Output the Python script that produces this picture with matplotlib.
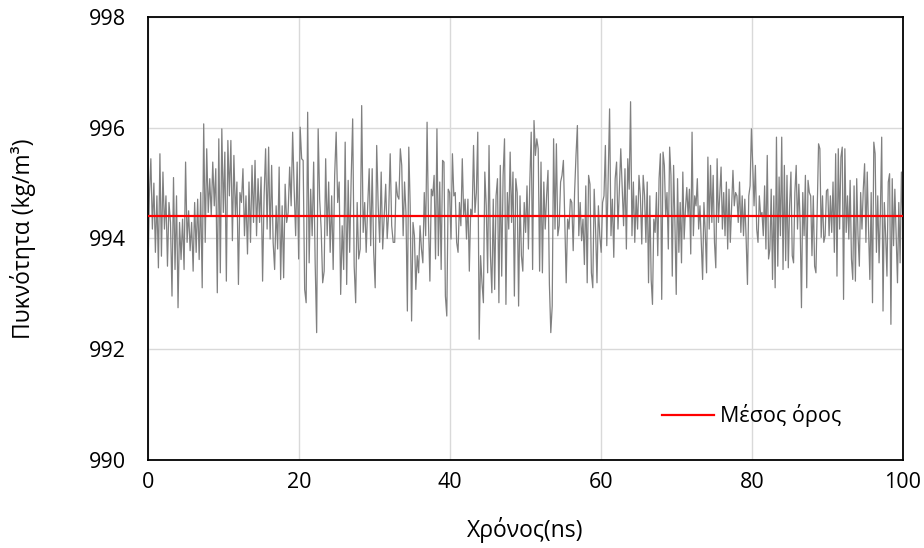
import numpy as np
import matplotlib
matplotlib.use("Agg")
import matplotlib.pyplot as plt

plt.rcParams['font.family'] = ['Open Sans', 'DejaVu Sans']

# Density samples (kg/m^3), one list per time window
density_a = [993.2, 994.77, 995.44, 994.17, 995.0, 993.75, 994.77, 993.47, 995.53, 993.68,
             995.2, 994.17, 994.77, 993.5, 994.65, 994.29, 992.96, 995.1, 993.44, 994.77,
             992.75, 994.29, 993.62, 994.35, 993.44, 995.38, 993.93, 994.5, 993.78, 994.29,
             993.41, 994.65, 993.75, 994.71, 993.62, 994.83, 993.11, 996.07, 993.93, 995.62,
             994.47, 995.08, 994.41, 995.38, 994.59, 995.26, 993.02, 995.8, 993.38, 995.98,
             994.47, 995.56, 993.23, 995.77, 994.77, 995.77, 993.96, 995.5, 994.41, 995.02,
             993.17, 994.83, 994.65, 995.26, 994.05, 994.77, 993.72, 995.02, 993.93, 995.32,
             994.29, 995.41, 994.05, 995.08, 994.29, 995.11, 993.23, 994.77, 995.62, 994.17,
             995.65]
density_b = [993.99, 995.32, 993.93, 993.44, 994.59, 993.81, 995.29, 993.26, 994.59, 993.29,
             994.98, 994.29, 994.47, 995.29, 994.59, 995.92, 994.89, 994.05, 995.38, 993.63,
             996.01, 995.44, 995.41, 993.08, 992.84, 996.28, 993.56, 994.89, 994.05, 995.38,
             993.56, 992.3, 995.98, 994.71, 994.17, 993.2, 993.41, 995.44, 994.05, 995.02,
             993.75, 994.77, 993.44, 995.14, 995.92, 994.65, 995.02, 992.99, 994.23, 993.44,
             995.74, 993.17, 995.05, 993.75, 995.08, 996.16, 993.5, 992.84, 994.65, 993.63,
             993.81, 996.4, 994.11, 994.65, 993.75, 994.59, 995.26, 993.87, 995.26, 993.75,
             993.11, 995.68, 994.59, 993.93, 995.2, 993.81, 994.41, 994.98, 994.0, 994.47,
             995.53, 994.23, 993.93]
density_c = [993.93, 995.02, 994.77, 994.71, 995.62, 995.32, 994.05, 995.02, 994.47, 992.69,
             995.65, 994.59, 992.51, 994.29, 994.05, 993.08, 993.69, 993.38, 994.23, 993.81,
             993.56, 994.83, 994.05, 996.1, 994.29, 993.23, 994.89, 994.77, 995.14, 993.63,
             995.98, 993.69, 995.02, 993.44, 995.41, 995.38, 992.96, 992.6, 994.89, 994.83,
             993.99, 995.53, 994.77, 994.83, 993.93, 993.75, 994.65, 994.23, 995.44, 994.41,
             994.71, 993.99, 994.71, 993.41, 994.53, 994.41, 995.68, 994.47, 994.83, 995.92,
             992.18, 993.69, 993.2, 992.84, 995.2, 994.59, 993.38, 995.68, 993.69, 993.02,
             994.71, 993.08, 994.77, 995.08, 992.84, 995.32, 993.32, 995.14, 995.8, 992.81,
             994.83, 994.17, 995.56, 994.29, 995.2, 992.96, 995.08, 994.83, 992.78]
density_d = [994.77, 993.69, 993.41, 994.65, 994.11, 994.95, 993.81, 995.02, 995.92, 993.44,
             996.13, 995.5, 995.8, 995.62, 993.41, 995.38, 993.38, 995.02, 994.17, 994.77,
             995.23, 993.17, 992.3, 992.78, 995.8, 994.17, 995.71, 994.05, 994.23, 995.02,
             995.14, 995.41, 994.29, 993.2, 994.35, 994.17, 994.71, 994.65, 993.78, 994.83,
             995.5, 996.04, 994.05, 994.65, 993.96, 994.35, 993.53, 994.95, 993.2, 995.14,
             994.98, 993.38, 993.11, 994.89, 994.17, 993.2, 994.59, 994.05, 993.75, 994.65,
             994.77, 995.68, 993.87, 995.08, 996.34, 994.05, 994.71, 993.66, 995.08, 995.38,
             994.17, 994.89, 995.62, 994.95, 994.23, 995.26, 993.81, 995.44, 994.89, 996.47,
             994.05, 995.02, 993.93, 994.77, 994.17, 995.14, 994.77, 993.9, 995.14]
density_e = [994.77, 993.93, 995.02, 993.2, 994.77, 993.26, 992.81, 994.35, 994.11, 994.83,
             993.69, 995.08, 995.53, 992.9, 995.56, 995.32, 994.41, 994.83, 993.81, 995.65,
             995.14, 993.32, 995.32, 994.29, 992.99, 995.08, 993.75, 994.65, 993.56, 995.2,
             993.99, 994.53, 994.92, 994.41, 994.89, 993.72, 995.92, 994.05, 994.77, 994.59,
             995.08, 994.17, 994.59, 993.93, 993.26, 994.65, 994.11, 993.38, 995.47, 994.17,
             995.32, 994.29, 995.14, 993.93, 993.47, 995.44, 994.29, 994.77, 995.29, 994.17,
             994.83, 994.05, 995.02, 993.81, 994.89, 993.93, 994.59, 995.23, 994.59, 994.83,
             994.77, 994.29, 995.02, 994.11, 994.77, 994.05, 994.71, 993.99, 993.17, 994.77,
             994.95, 995.98, 995.32, 994.59, 995.32, 994.17, 993.93, 994.77, 994.41, 994.47,
             994.05, 994.95, 993.81, 995.5, 993.63]
density_f = [993.81, 994.89, 993.26, 994.77, 993.11, 995.83, 993.5, 995.11, 994.05, 995.83,
             993.44, 995.32, 993.6, 995.14, 993.47, 994.59, 995.2, 993.69, 993.56, 994.83,
             995.32, 994.17, 994.98, 994.29, 992.75, 994.83, 994.05, 995.14, 993.11, 995.05,
             994.83, 994.77, 993.69, 994.77, 993.5, 993.38, 994.59, 995.71, 995.62, 994.02,
             994.77, 993.93, 994.05, 994.86, 994.89, 994.05, 994.77, 994.11, 995.02, 993.75,
             995.53, 993.32, 995.62, 994.17, 995.47, 995.65, 992.9, 995.62, 994.11, 994.77,
             993.99, 995.05, 993.63, 993.26, 994.95, 993.23, 995.08, 994.05, 993.5, 994.83,
             994.17, 994.89, 995.35, 993.93, 995.2, 994.17, 993.26, 994.83, 992.84, 995.74,
             995.53, 993.75, 994.77, 993.56, 994.47, 995.83, 992.69, 994.65, 994.05, 993.32,
             995.02, 995.17, 992.45, 995.08, 993.87, 994.89, 994.05, 993.2, 994.65, 993.56,
             995.2, 994.35]

# Time window edges (ns) for the six sample lists above
window_edges = [0.0, 16.2, 32.7, 49.3, 65.8, 82.4, 100.0]
mean_density = 994.4

x_ticks = [0, 20, 40, 60, 80, 100]
y_ticks = [990, 992, 994, 996, 998]

segments = [density_a, density_b, density_c, density_d, density_e, density_f]
times, values = [], []
for i, seg in enumerate(segments):
    last = i == len(segments) - 1
    t = np.linspace(window_edges[i], window_edges[i + 1], len(seg), endpoint=last)
    times.append(t)
    values.append(np.asarray(seg))
time = np.concatenate(times)
density = np.concatenate(values)

fig = plt.figure(figsize=(9.24, 5.48), dpi=100)
ax = fig.add_axes([0.160, 0.1606, 0.817, 0.8084])

ax.plot(time, density, color='#808080', lw=0.9, zorder=2)
ax.axhline(mean_density, color='#ff0000', lw=1.6, zorder=3, label='Μέσος όρος')

ax.set_xlim(0, 100)
ax.set_ylim(990, 998)
ax.set_xticks(x_ticks)
ax.set_yticks(y_ticks)
ax.grid(True, color='#d9d9d9', lw=1.0, zorder=0)
ax.set_axisbelow(True)

for s in ax.spines.values():
    s.set_color('black')
    s.set_linewidth(1.3)

ax.tick_params(axis='both', length=0, labelsize=15.5, colors='black')
ax.tick_params(axis='y', pad=16)
ax.tick_params(axis='x', pad=9)

ax.set_xlabel('Χρόνος(ns)', fontsize=16.5, labelpad=17)
ax.set_ylabel('Πυκνότητα (kg/m³)', fontsize=16.5, labelpad=38)

ax.legend(loc='center', bbox_to_anchor=(0.80, 0.10), frameon=False,
          fontsize=15.5, handlelength=2.4, handletextpad=0.3)

fig.savefig('out.png', dpi=100)
